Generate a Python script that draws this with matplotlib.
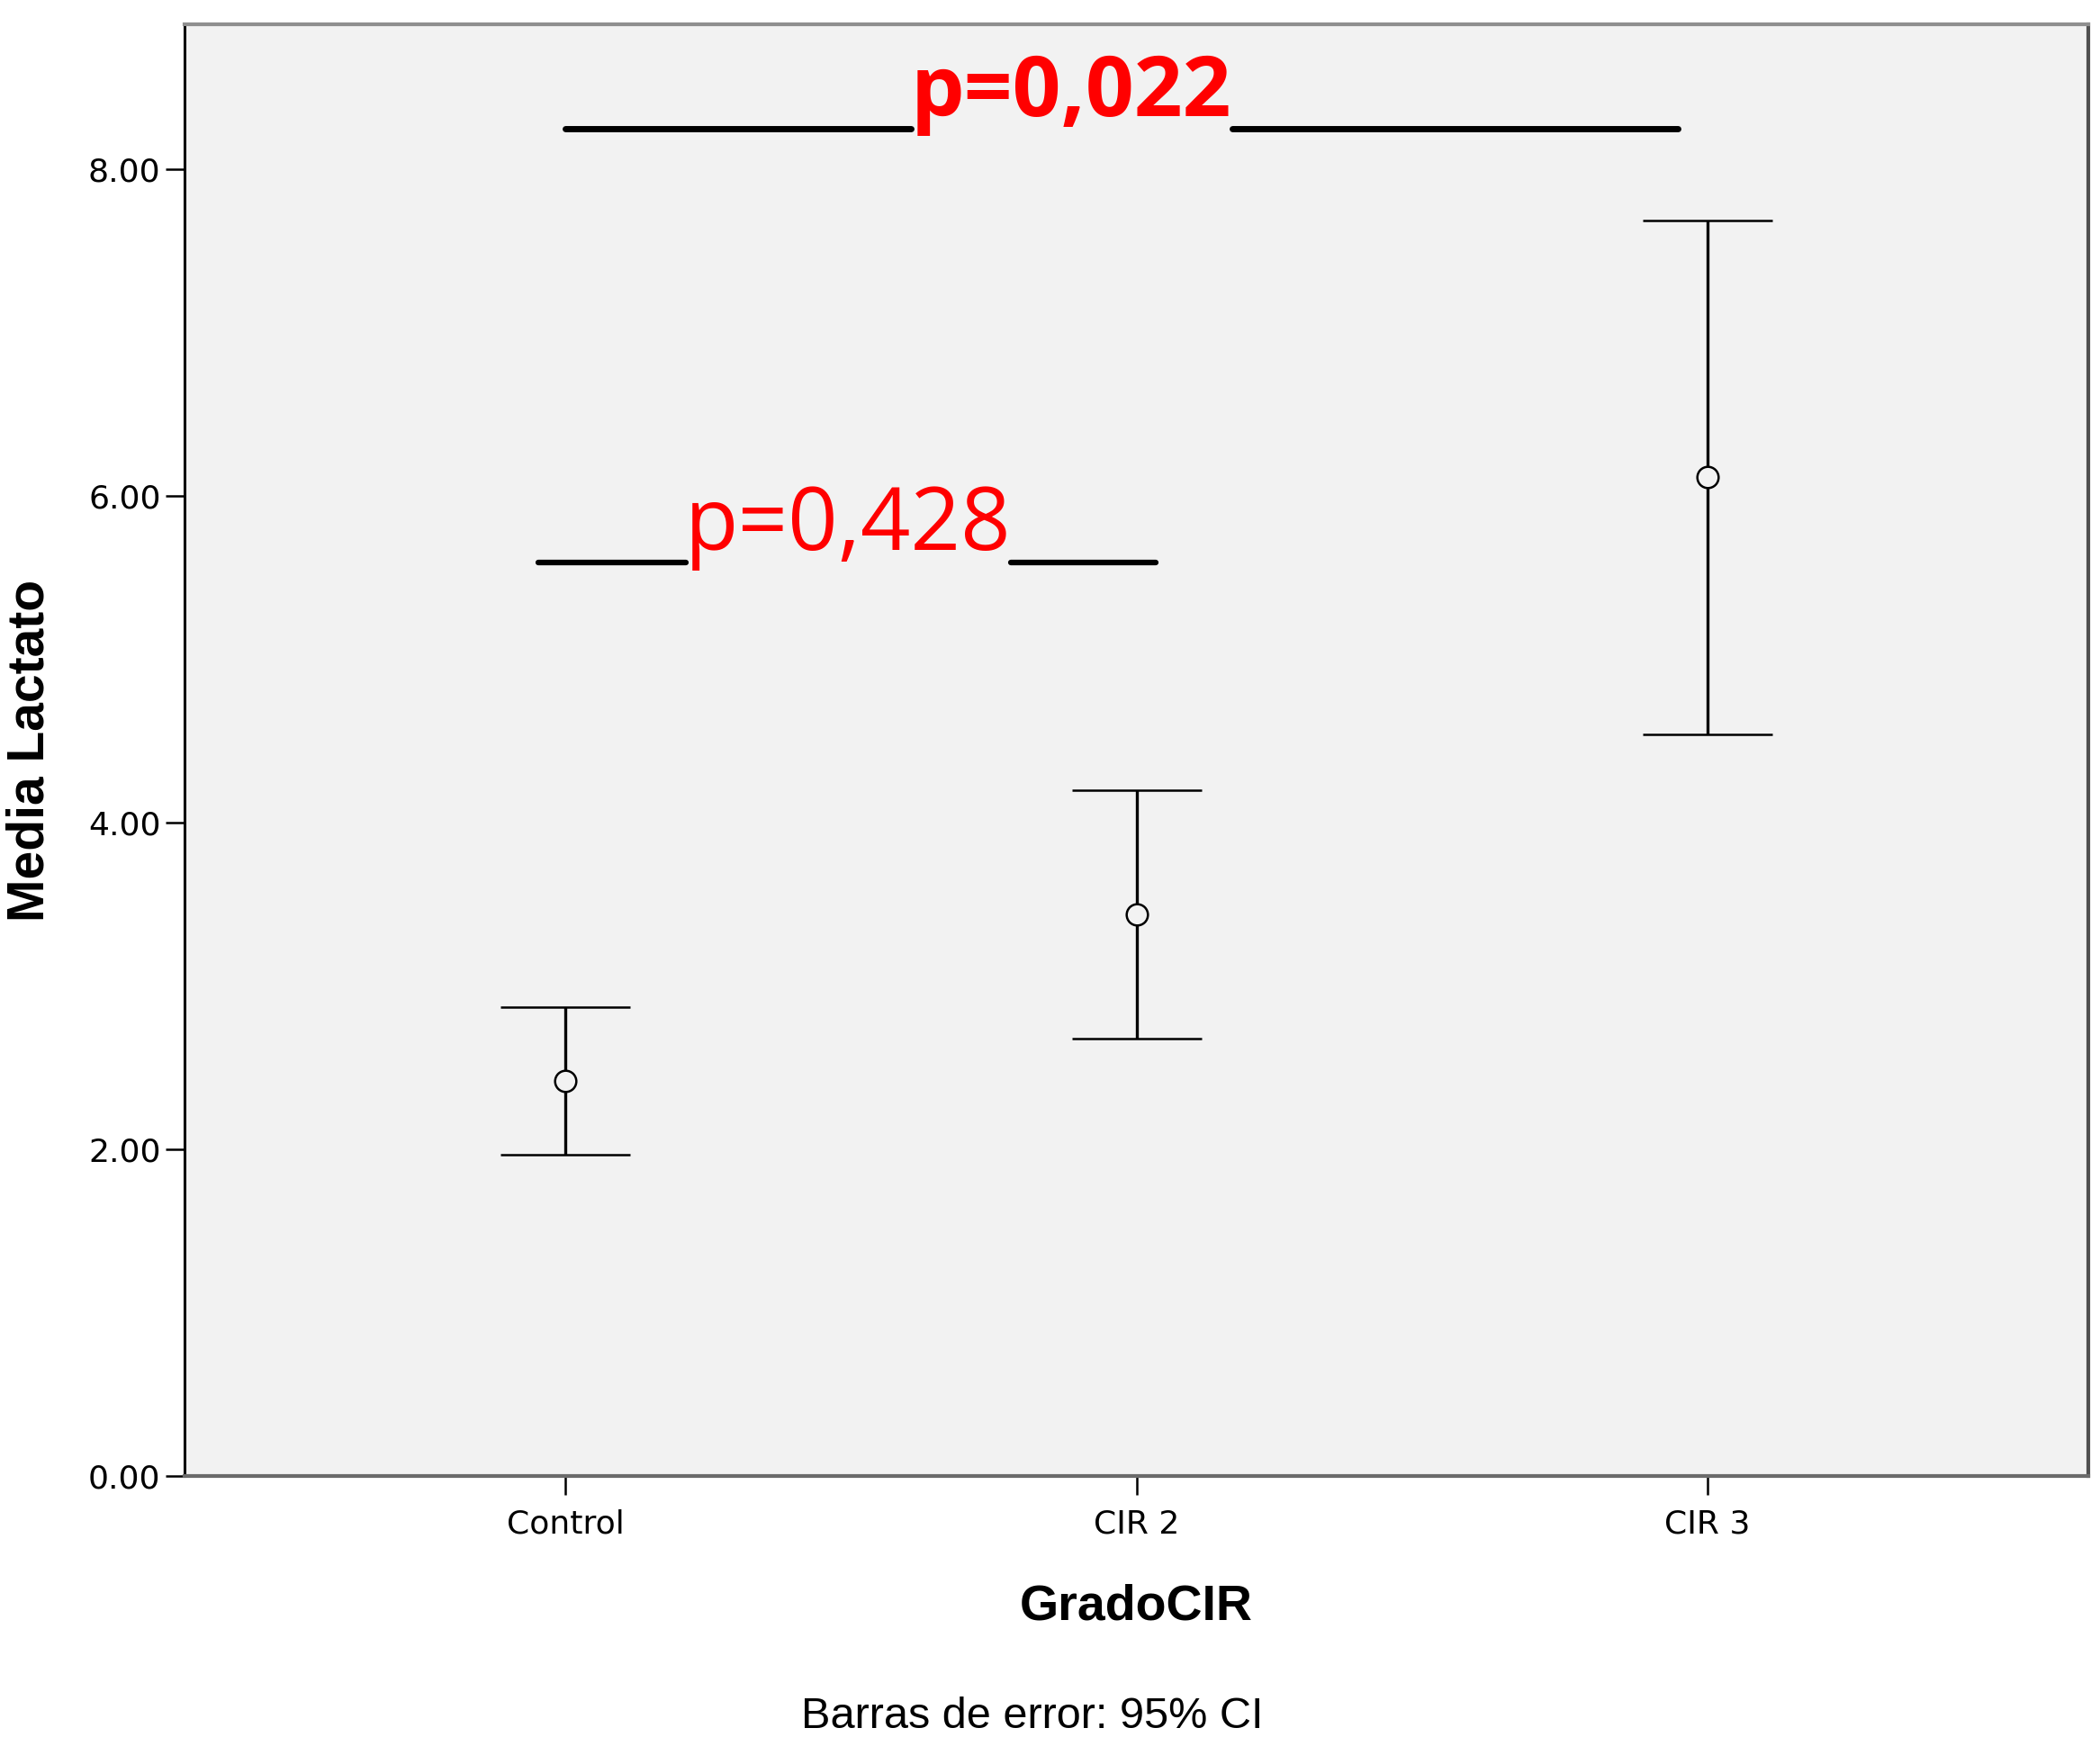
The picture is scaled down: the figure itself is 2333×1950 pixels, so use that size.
import numpy as np
import matplotlib
matplotlib.use("Agg")
import matplotlib.pyplot as plt

# grupos y valores (media y IC 95%)
grupos = ["Control", "CIR 2", "CIR 3"]
media = [2.42, 3.44, 6.12]
ic_inf = [1.97, 2.68, 4.54]
ic_sup = [2.87, 4.20, 7.69]
yticks = [0, 2, 4, 6, 8]

# comparaciones: texto, altura de la linea, tramos de linea (x desde, x hasta)
comp_texto = ["p=0,428", "p=0,022"]
comp_y = [5.595, 8.25]
comp_tramos = [[(-0.047, 0.211), (0.780, 1.034)],
               [(0.0, 0.605), (1.168, 1.948)]]
comp_texto_x = [0.495, 0.886]
comp_texto_y = [5.67, 8.33]
comp_bold = [False, True]

fondo = "#f2f2f2"

fig = plt.figure(figsize=(23.33, 19.5), dpi=100)
ax = fig.add_axes([205 / 2333, 1 - 1640 / 1950, 2115 / 2333, 1613 / 1950])
ax.set_facecolor(fondo)

x = np.arange(len(grupos))
media = np.array(media)
yerr = [media - np.array(ic_inf), np.array(ic_sup) - media]
ax.errorbar(x, media, yerr=yerr, fmt="o", color="black", ecolor="black",
            elinewidth=2.4, capsize=52, capthick=2.6, markersize=17,
            mfc=fondo, mec="black", mew=1.8)

# lineas y textos de significacion
for txt, yl, tramos, tx, ty, bold in zip(comp_texto, comp_y, comp_tramos,
                                         comp_texto_x, comp_texto_y, comp_bold):
    for a, b in tramos:
        ax.plot([a, b], [yl, yl], color="black",
                lw=5 if bold else 4.5, solid_capstyle="round")
    ax.text(tx, ty, txt, color="red", ha="center", va="baseline",
            fontsize=68 if bold else 70, family="Open Sans",
            fontweight="bold" if bold else "normal")

ax.set_xlim(-2 / 3, 2 + 2 / 3)
ax.set_ylim(0, 8.89)
ax.set_xticks(x)
ax.set_xticklabels(grupos, fontsize=26, family="DejaVu Sans")
ax.set_yticks(yticks)
ax.set_yticklabels(["%.2f" % v for v in yticks], fontsize=26, family="DejaVu Sans")
ax.tick_params(axis="both", length=15, width=1.8, color="black")
ax.tick_params(axis="x", pad=11)
ax.tick_params(axis="y", pad=4)

ax.spines["left"].set_color("black")
ax.spines["left"].set_linewidth(2.2)
ax.spines["bottom"].set_color("#6b6b6b")
ax.spines["bottom"].set_linewidth(3)
ax.spines["top"].set_color("#8f8f8f")
ax.spines["top"].set_linewidth(3)
ax.spines["right"].set_color("#505050")
ax.spines["right"].set_linewidth(3)

ax.set_xlabel("GradoCIR", fontsize=40, fontweight="bold",
              family="Liberation Sans", va="center")
ax.xaxis.set_label_coords(0.5, -0.0905)
ax.set_ylabel("Media Lactato", fontsize=41, fontweight="bold",
              family="Liberation Sans", va="center")
ax.yaxis.set_label_coords(-0.0813, 0.5)

fig.text(1147 / 2333, 1 - 1907 / 1950, "Barras de error: 95% CI",
         fontsize=35, family="Liberation Sans", ha="center", va="center")

fig.savefig("out.png", dpi=100, facecolor="white")
